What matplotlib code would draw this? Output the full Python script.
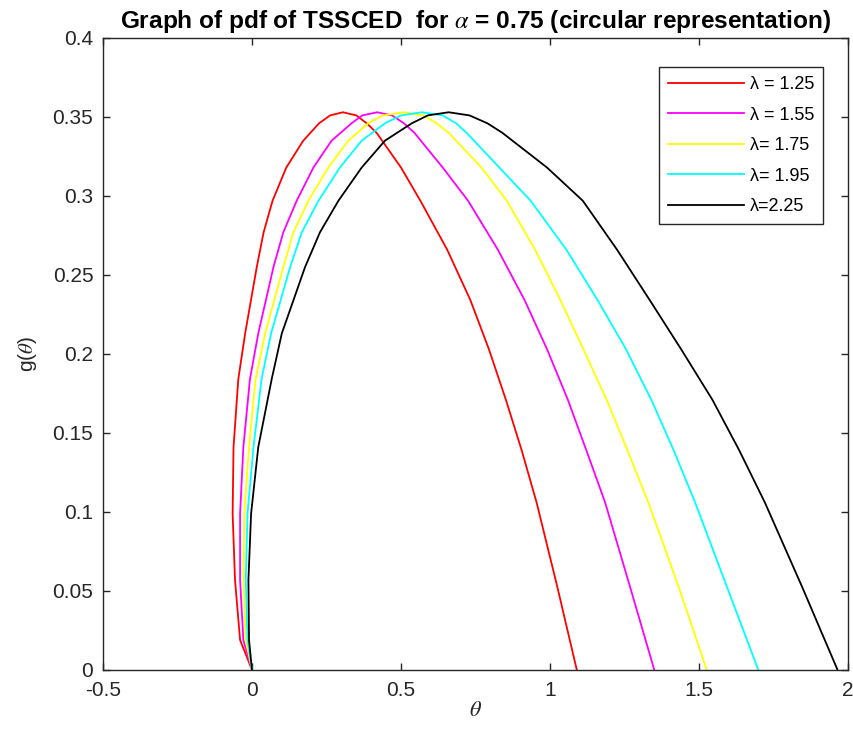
import matplotlib.pyplot as plt

plt.rcParams['font.family'] = ['Liberation Sans', 'DejaVu Sans']
plt.rcParams['mathtext.fontset'] = 'stix'

# values (theta, g)
labels = ['λ = 1.25', 'λ = 1.55', 'λ= 1.75', 'λ= 1.95', 'λ=2.25']
colors = ['#ff0000', '#ff00ff', '#ffff00', '#00ffff', '#000000']

# g levels at which each curve was read (rise, peak, fall)
g_read = [0.0, 0.019, 0.057, 0.099, 0.141, 0.184, 0.213, 0.255, 0.277, 0.297, 0.318,
          0.335, 0.346, 0.351, 0.353, 0.351, 0.346, 0.340, 0.318, 0.297, 0.266, 0.234,
          0.203, 0.171, 0.139, 0.106, 0.053, 0.0]

x_red = [0.0, -0.040, -0.057, -0.065, -0.062, -0.046, -0.023, 0.016, 0.039, 0.069, 0.115,
         0.172, 0.225, 0.262, 0.305, 0.350, 0.385, 0.418, 0.500, 0.565, 0.655, 0.733,
         0.795, 0.852, 0.905, 0.955, 1.024, 1.090]
x_mag = [0.0, -0.029, -0.040, -0.040, -0.029, -0.007, 0.021, 0.072, 0.105, 0.150, 0.206,
         0.267, 0.334, 0.370, 0.420, 0.470, 0.510, 0.545, 0.640, 0.725, 0.825, 0.915,
         0.990, 1.060, 1.122, 1.185, 1.268, 1.350]
x_yel = [0.0, -0.021, -0.029, -0.026, -0.010, 0.012, 0.044, 0.105, 0.139, 0.189, 0.256,
         0.323, 0.390, 0.440, 0.510, 0.575, 0.620, 0.660, 0.770, 0.855, 0.950, 1.035,
         1.112, 1.190, 1.260, 1.330, 1.431, 1.526]
x_cya = [0.0, -0.015, -0.021, -0.015, 0.005, 0.032, 0.064, 0.128, 0.167, 0.223, 0.295,
         0.368, 0.446, 0.500, 0.570, 0.640, 0.685, 0.720, 0.830, 0.935, 1.055, 1.160,
         1.255, 1.340, 1.415, 1.487, 1.593, 1.699]
x_blk = [0.0, -0.010, -0.012, -0.003, 0.021, 0.066, 0.100, 0.178, 0.228, 0.290, 0.368,
         0.446, 0.536, 0.590, 0.660, 0.730, 0.790, 0.840, 0.990, 1.110, 1.225, 1.335,
         1.440, 1.545, 1.635, 1.721, 1.845, 1.965]

xs = [x_red, x_mag, x_yel, x_cya, x_blk]

fig = plt.figure(figsize=(8.54, 7.45), dpi=100)
ax = fig.add_axes([0.1206, 0.1007, 0.8724, 0.8483])

for x, c, lab in zip(xs, colors, labels):
    ax.plot(x, g_read, color=c, linewidth=1.3, label=lab)

ax.set_xlim(-0.5, 2)
ax.set_ylim(0, 0.4)
ax.set_xticks([-0.5, 0, 0.5, 1, 1.5, 2])
ax.set_xticklabels(['-0.5', '0', '0.5', '1', '1.5', '2'])
ax.set_yticks([0, 0.05, 0.1, 0.15, 0.2, 0.25, 0.3, 0.35, 0.4])
ax.set_yticklabels(['0', '0.05', '0.1', '0.15', '0.2', '0.25', '0.3', '0.35', '0.4'])

gray = '#262626'
for s in ax.spines.values():
    s.set_color(gray)
    s.set_linewidth(1.0)
ax.tick_params(direction='in', length=5, width=1.0, colors=gray, labelsize=15,
               top=True, right=True)
ax.tick_params(axis='x', pad=8)
ax.tick_params(axis='y', pad=7)

ax.set_xlabel(r'$\theta$', fontsize=16, color=gray, labelpad=0)
ax.set_ylabel(r'g($\theta$)', fontsize=15, color=gray, labelpad=10)
ax.set_title(r'Graph of pdf of TSSCED  for $\alpha$ = 0.75 (circular representation)',
             fontsize=17.6, fontweight='bold', pad=7)

leg = ax.legend(loc='upper right', bbox_to_anchor=(0.9664, 0.954), borderaxespad=0,
                fontsize=13, handlelength=4.2, handletextpad=0.3, labelspacing=0.75,
                fancybox=False, framealpha=1, edgecolor=gray, borderpad=0.5)
leg.get_frame().set_linewidth(1.0)

fig.savefig('out.png', dpi=100)
